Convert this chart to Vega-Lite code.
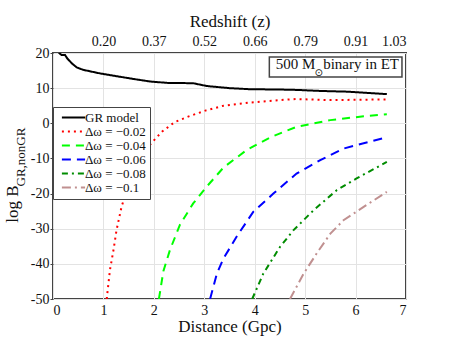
{
  "$schema": "https://vega.github.io/schema/vega-lite/v6.json",
  "width": 353,
  "height": 246,
  "autosize": "none",
  "padding": {"left": 53, "top": 53, "right": 51, "bottom": 54},
  "background": "white",
  "config": {
    "font": "Liberation Serif",
    "view": {"stroke": "#444", "strokeWidth": 2},
    "axis": {
      "labelFont": "Liberation Serif", "titleFont": "Liberation Serif",
      "labelColor": "#111", "titleColor": "#111", "titleFontWeight": "normal",
      "labelFontSize": 14, "titleFontSize": 17, "labelOverlap": false,
      "gridColor": "#e3e3e3", "gridWidth": 1, "domain": false, "tickColor": "#444"
    },
    "axisY": {"labelOverlap": false},
    "legend": {
      "orient": "none", "legendX": 0, "legendY": 54,
      "fillColor": "white", "strokeColor": "#444", "padding": 4,
      "labelFont": "Liberation Serif", "labelFontSize": 13, "labelColor": "#111",
      "symbolType": "M-2.9,0H2.9", "symbolStrokeWidth": 2, "symbolSize": 64,
      "symbolOffset": 10, "rowPadding": -3, "labelOffset": 5
    }
  },
  "datasets": {
    "curves": [
      {"s": "GR model", "d": 0.1, "v": 20.3},
      {"s": "GR model", "d": 0.17, "v": 19.4},
      {"s": "GR model", "d": 0.24, "v": 19.4},
      {"s": "GR model", "d": 0.28, "v": 18.5},
      {"s": "GR model", "d": 0.37, "v": 17.1},
      {"s": "GR model", "d": 0.47, "v": 15.9},
      {"s": "GR model", "d": 0.6, "v": 15.2},
      {"s": "GR model", "d": 0.93, "v": 14.2},
      {"s": "GR model", "d": 1.26, "v": 13.4},
      {"s": "GR model", "d": 1.6, "v": 12.6},
      {"s": "GR model", "d": 1.92, "v": 11.9},
      {"s": "GR model", "d": 2.26, "v": 11.5},
      {"s": "GR model", "d": 2.78, "v": 11.4},
      {"s": "GR model", "d": 3.05, "v": 10.6},
      {"s": "GR model", "d": 3.5, "v": 10.0},
      {"s": "GR model", "d": 3.9, "v": 9.7},
      {"s": "GR model", "d": 4.5, "v": 9.6},
      {"s": "GR model", "d": 4.83, "v": 9.5},
      {"s": "GR model", "d": 5.3, "v": 9.2},
      {"s": "GR model", "d": 5.83, "v": 9.0},
      {"s": "GR model", "d": 6.62, "v": 8.3},
      {"s": "Δω = −0.02", "d": 1.065, "v": -50},
      {"s": "Δω = −0.02", "d": 1.13, "v": -41.7},
      {"s": "Δω = −0.02", "d": 1.2, "v": -36},
      {"s": "Δω = −0.02", "d": 1.26, "v": -30.4},
      {"s": "Δω = −0.02", "d": 1.36, "v": -23.7},
      {"s": "Δω = −0.02", "d": 1.49, "v": -18},
      {"s": "Δω = −0.02", "d": 1.63, "v": -12.4},
      {"s": "Δω = −0.02", "d": 1.78, "v": -8.5},
      {"s": "Δω = −0.02", "d": 1.96, "v": -5.5},
      {"s": "Δω = −0.02", "d": 2.16, "v": -2.4},
      {"s": "Δω = −0.02", "d": 2.42, "v": 0.4},
      {"s": "Δω = −0.02", "d": 2.68, "v": 1.9},
      {"s": "Δω = −0.02", "d": 3.02, "v": 3.6},
      {"s": "Δω = −0.02", "d": 3.38, "v": 5.0},
      {"s": "Δω = −0.02", "d": 3.9, "v": 5.9},
      {"s": "Δω = −0.02", "d": 4.5, "v": 6.6},
      {"s": "Δω = −0.02", "d": 4.83, "v": 6.9},
      {"s": "Δω = −0.02", "d": 5.5, "v": 6.6},
      {"s": "Δω = −0.02", "d": 6.62, "v": 6.8},
      {"s": "Δω = −0.04", "d": 2.1, "v": -50},
      {"s": "Δω = −0.04", "d": 2.19, "v": -42},
      {"s": "Δω = −0.04", "d": 2.32, "v": -36},
      {"s": "Δω = −0.04", "d": 2.52, "v": -28.8},
      {"s": "Δω = −0.04", "d": 2.78, "v": -22.8},
      {"s": "Δω = −0.04", "d": 3.05, "v": -18},
      {"s": "Δω = −0.04", "d": 3.38, "v": -12.6},
      {"s": "Δω = −0.04", "d": 3.84, "v": -7.6},
      {"s": "Δω = −0.04", "d": 4.31, "v": -4},
      {"s": "Δω = −0.04", "d": 4.83, "v": -1},
      {"s": "Δω = −0.04", "d": 5.5, "v": 0.9},
      {"s": "Δω = −0.04", "d": 6.16, "v": 2},
      {"s": "Δω = −0.04", "d": 6.62, "v": 2.6},
      {"s": "Δω = −0.06", "d": 3.115, "v": -50},
      {"s": "Δω = −0.06", "d": 3.25, "v": -42.8},
      {"s": "Δω = −0.06", "d": 3.38, "v": -38.5},
      {"s": "Δω = −0.06", "d": 3.64, "v": -32.3},
      {"s": "Δω = −0.06", "d": 3.97, "v": -25.2},
      {"s": "Δω = −0.06", "d": 4.37, "v": -20},
      {"s": "Δω = −0.06", "d": 4.83, "v": -14.3},
      {"s": "Δω = −0.06", "d": 5.3, "v": -10.5},
      {"s": "Δω = −0.06", "d": 5.76, "v": -7.2},
      {"s": "Δω = −0.06", "d": 6.16, "v": -5.7},
      {"s": "Δω = −0.06", "d": 6.62, "v": -4},
      {"s": "Δω = −0.08", "d": 3.95, "v": -50},
      {"s": "Δω = −0.08", "d": 4.17, "v": -42.8},
      {"s": "Δω = −0.08", "d": 4.5, "v": -35.2},
      {"s": "Δω = −0.08", "d": 4.77, "v": -30.4},
      {"s": "Δω = −0.08", "d": 5.17, "v": -24.7},
      {"s": "Δω = −0.08", "d": 5.63, "v": -19},
      {"s": "Δω = −0.08", "d": 6.02, "v": -15.7},
      {"s": "Δω = −0.08", "d": 6.62, "v": -11},
      {"s": "Δω = −0.1", "d": 4.7, "v": -50},
      {"s": "Δω = −0.1", "d": 4.97, "v": -42.8},
      {"s": "Δω = −0.1", "d": 5.23, "v": -37},
      {"s": "Δω = −0.1", "d": 5.5, "v": -31.4},
      {"s": "Δω = −0.1", "d": 5.76, "v": -27.6},
      {"s": "Δω = −0.1", "d": 6.16, "v": -23.8},
      {"s": "Δω = −0.1", "d": 6.62, "v": -19.5}
    ]
  },
  "resolve": {"axis": {"x": "independent", "y": "independent"}},
  "layer": [
    {
      "data": {"name": "curves"},
      "mark": {"type": "line", "strokeWidth": 2, "clip": true, "strokeCap": "butt"},
      "encoding": {
        "x": {
          "field": "d", "type": "quantitative",
          "scale": {"domain": [0, 7], "nice": false, "zero": false},
          "axis": {"orient": "bottom", "values": [0, 1, 2, 3, 4, 5, 6, 7], "grid": true, "ticks": false,
                   "labelPadding": 4, "title": "Distance (Gpc)", "titlePadding": 1}
        },
        "y": {
          "field": "v", "type": "quantitative",
          "scale": {"domain": [-50, 20], "nice": false, "zero": false},
          "axis": {"values": [-50, -40, -30, -20, -10, 0, 10, 20], "grid": true, "tickSize": 3,
                   "labelOverlap": false, "labelBound": false,
                   "labelPadding": 1, "labelExpr": "'' + datum.value", "title": null}
        },
        "color": {
          "field": "s", "type": "nominal", "title": null,
          "scale": {
            "domain": ["GR model", "Δω = −0.02", "Δω = −0.04", "Δω = −0.06", "Δω = −0.08", "Δω = −0.1"],
            "range": ["#000000", "#ff0000", "#00ff00", "#0000ff", "#008c00", "#c09090"]
          }
        },
        "strokeDash": {
          "field": "s", "type": "nominal", "title": null,
          "scale": {
            "domain": ["GR model", "Δω = −0.02", "Δω = −0.04", "Δω = −0.06", "Δω = −0.08", "Δω = −0.1"],
            "range": [[1, 0], [2, 4], [8, 6], [9, 6], [6, 4, 2, 4], [9, 4, 2, 4]]
          }
        }
      }
    },
    {
      "data": {"values": [{}]},
      "mark": {"type": "rect", "fill": "white", "stroke": "#444", "strokeWidth": 1.5},
      "encoding": {
        "x": {"datum": 4.29, "type": "quantitative",
              "axis": {"orient": "top", "values": [1, 2, 3, 4, 5, 6, 7], "grid": false, "ticks": false,
                       "labelPadding": 5, "labelDx": 3,
                       "labelExpr": "datum.value == 1 ? '0.20' : datum.value == 2 ? '0.37' : datum.value == 3 ? '0.52' : datum.value == 4 ? '0.66' : datum.value == 5 ? '0.79' : datum.value == 6 ? '0.91' : '1.03'",
                       "title": "Redshift (z)", "titlePadding": 4}},
        "x2": {"datum": 6.92},
        "y": {"datum": 18.86, "type": "quantitative", "axis": null},
        "y2": {"datum": 13.17}
      }
    },
    {
      "data": {"values": [{}]},
      "mark": {"type": "text", "align": "right", "baseline": "alphabetic", "fontSize": 15, "font": "Liberation Serif", "color": "#111"},
      "encoding": {
        "x": {"datum": 5.2, "type": "quantitative", "axis": null},
        "y": {"datum": 15.45, "type": "quantitative", "axis": null},
        "text": {"value": "500 M"}
      }
    },
    {
      "data": {"values": [{}]},
      "mark": {"type": "text", "align": "center", "baseline": "alphabetic", "fontSize": 10, "font": "DejaVu Sans", "color": "#111"},
      "encoding": {
        "x": {"datum": 5.27, "type": "quantitative", "axis": null},
        "y": {"datum": 13.45, "type": "quantitative", "axis": null},
        "text": {"value": "⊙"}
      }
    },
    {
      "data": {"values": [{}]},
      "mark": {"type": "text", "align": "left", "baseline": "alphabetic", "fontSize": 15, "font": "Liberation Serif", "color": "#111"},
      "encoding": {
        "x": {"datum": 5.357, "type": "quantitative", "axis": null},
        "y": {"datum": 15.45, "type": "quantitative", "axis": null},
        "text": {"value": "binary in ET"}
      }
    },
    {
      "data": {"values": [{}]},
      "mark": {"type": "text", "align": "center", "baseline": "middle", "angle": 270, "fontSize": 17, "font": "Liberation Serif", "color": "#111"},
      "encoding": {
        "x": {"datum": -0.79, "type": "quantitative", "axis": null},
        "y": {"datum": -22.97, "type": "quantitative", "axis": null},
        "text": {"value": "log B"}
      }
    },
    {
      "data": {"values": [{}]},
      "mark": {"type": "text", "align": "center", "baseline": "middle", "angle": 270, "fontSize": 13, "font": "Liberation Serif", "color": "#111"},
      "encoding": {
        "x": {"datum": -0.635, "type": "quantitative", "axis": null},
        "y": {"datum": -9.6, "type": "quantitative", "axis": null},
        "text": {"value": "GR,nonGR"}
      }
    }
  ]
}
